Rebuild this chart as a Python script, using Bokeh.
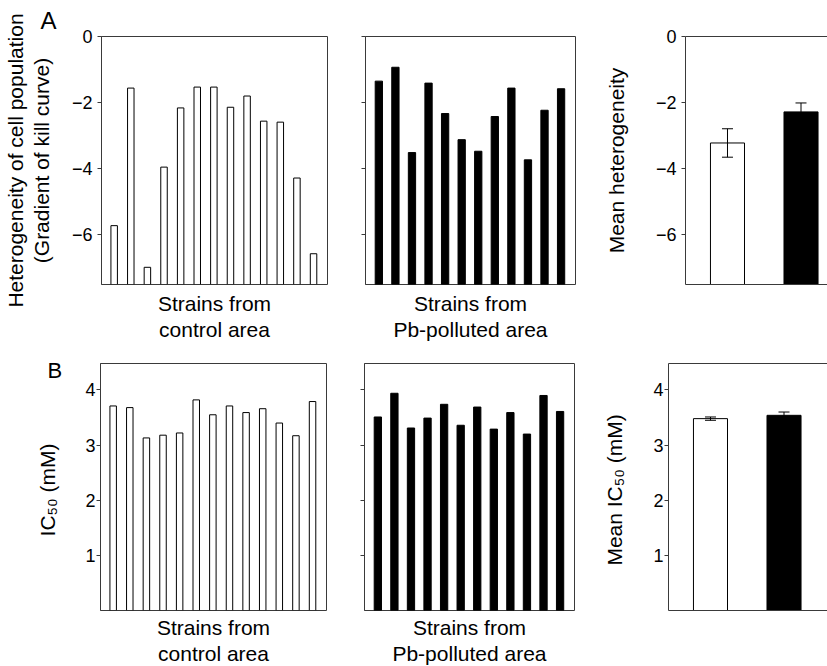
from bokeh.plotting import figure
from bokeh.layouts import column, row
from bokeh.models import (FixedTicker, LinearAxis, Range1d, Whisker,
                          ColumnDataSource, Label)
from bokeh.embed import file_html
from bokeh.resources import INLINE

# ---------------- data ----------------
control_het = [-5.72, -1.56, -6.98, -3.95, -2.16, -1.53, -1.53, -2.14, -1.80,
               -2.56, -2.59, -4.28, -6.57]
polluted_het = [-1.35, -0.93, -3.51, -1.41, -2.33, -3.12, -3.47, -2.42, -1.56,
                -3.73, -2.23, -1.58]
control_ic50 = [3.71, 3.68, 3.13, 3.18, 3.22, 3.82, 3.55, 3.71, 3.59, 3.66,
                3.40, 3.17, 3.79]
polluted_ic50 = [3.51, 3.94, 3.31, 3.49, 3.74, 3.36, 3.69, 3.29, 3.59, 3.20,
                 3.90, 3.61]
mean_het = [-3.22, -2.28]
mean_het_err = [0.43, 0.27]
mean_ic50 = [3.48, 3.54]
mean_ic50_err = [0.03, 0.06]
het_ticks = [-6, -4, -2, 0]
ic50_ticks = [1, 2, 3, 4]

FONT = "Liberation Sans"
LC = "#3a3a3a"
HET_RANGE = (-7.5, 0)
IC_RANGE = (0, 4.48)


def base_fig(fw, fh, bl, br, bt, bb, xr, yr, outline=True):
    p = figure(frame_width=fw, frame_height=fh, min_border_left=bl,
               min_border_right=br, min_border_top=bt, min_border_bottom=bb,
               x_range=Range1d(*xr), y_range=Range1d(*yr),
               output_backend="svg", toolbar_location=None, tools="")
    p.grid.visible = False
    p.outline_line_color = LC if outline else None
    p.outline_line_width = 1
    p.background_fill_color = "white"
    p.border_fill_color = "white"
    return p


def style_yaxis(ax, ticks, labels=True, standoff=5):
    ax.ticker = FixedTicker(ticks=ticks)
    ax.major_tick_out = 4
    ax.major_tick_in = 0
    ax.minor_tick_out = 0
    ax.minor_tick_in = 0
    ax.axis_line_color = LC
    ax.major_tick_line_color = LC
    ax.major_label_text_font = FONT
    ax.major_label_text_font_size = "18px"
    ax.major_label_standoff = standoff
    if labels:
        ax.major_label_text_color = "black"
        ax.major_label_overrides = {t: (str(t).replace("-", "\u2212")) for t in ticks}
    else:
        ax.major_label_text_color = None
    ax.axis_label_text_font = FONT
    ax.axis_label_text_font_size = "21px"
    ax.axis_label_text_font_style = "normal"
    ax.axis_label_text_color = "black"


def bare_axis(ax, text, standoff, line=False):
    ax.ticker = FixedTicker(ticks=[])
    ax.axis_line_color = LC if line else None
    ax.major_tick_out = 0
    ax.major_tick_in = 0
    ax.minor_tick_out = 0
    ax.minor_tick_in = 0
    ax.major_label_standoff = 0
    ax.major_label_text_color = None
    ax.axis_label = text
    ax.axis_label_standoff = standoff
    ax.axis_label_text_font = FONT
    ax.axis_label_text_font_size = "21px"
    ax.axis_label_text_font_style = "normal"
    ax.axis_label_text_color = "black"


def extra_axis(p, loc, text, standoff, line=False):
    ax = LinearAxis()
    bare_axis(ax, text, standoff, line)
    p.add_layout(ax, loc)
    return ax


X13 = (0.237, 13.84)
X12 = (0.195, 12.87)
X2 = (0.429, 2.605)

xc = list(range(1, len(control_het) + 1))
xp = list(range(1, len(polluted_het) + 1))
xm = [1, 2]

# ---------------- top row ----------------
p1 = base_fig(226, 248, 100, 12, 36, 58, X13, HET_RANGE)
p1.vbar(x=xc, top=control_het, bottom=HET_RANGE[0], width=0.39,
        fill_color="white", line_color="black", line_width=1)
style_yaxis(p1.yaxis[0], het_ticks, True, 5)
p1.yaxis[0].axis_label = "(Gradient of kill curve)"
p1.yaxis[0].axis_label_standoff = 16
extra_axis(p1, "left", "Heterogeneity of cell population", 0)
bare_axis(p1.xaxis[0], "Strains from", 7)
extra_axis(p1, "below", "control area", 0)
p1.add_layout(Label(x=-3.43, y=0.48, text="A", text_font=FONT,
                    text_color="black", text_font_size="24px",
                    text_baseline="alphabetic"), "above")

p2 = base_fig(210, 248, 26, 26, 36, 58, X12, HET_RANGE)
p2.vbar(x=xp, top=polluted_het, bottom=HET_RANGE[0], width=0.44,
        fill_color="black", line_color="black", line_width=1)
style_yaxis(p2.yaxis[0], het_ticks, False, 0)
bare_axis(p2.xaxis[0], "Strains from", 7)
extra_axis(p2, "below", "Pb-polluted area", 0)

p3 = base_fig(160, 248, 67, 0, 36, 58, X2, HET_RANGE, outline=False)
p3.vbar(x=xm, top=mean_het, bottom=HET_RANGE[0], width=0.463,
        fill_color=["white", "black"], line_color="black", line_width=1)
src3 = ColumnDataSource(dict(x=xm,
                             upper=[m + e for m, e in zip(mean_het, mean_het_err)],
                             lower=[m - e for m, e in zip(mean_het, mean_het_err)]))
w3 = Whisker(base="x", upper="upper", lower="lower", source=src3,
             line_color="black", line_width=1, level="overlay")
w3.upper_head.size = 11
w3.lower_head.size = 11
p3.add_layout(w3)
style_yaxis(p3.yaxis[0], het_ticks, True, 5)
p3.yaxis[0].axis_label = "Mean heterogeneity"
p3.yaxis[0].axis_label_standoff = 25
bare_axis(p3.xaxis[0], None, 0, line=True)
extra_axis(p3, "above", None, 0, line=True)

# ---------------- bottom row ----------------
p4 = base_fig(226, 247, 100, 12, 20, 57, X13, IC_RANGE)
p4.vbar(x=xc, top=control_ic50, bottom=0, width=0.39,
        fill_color="white", line_color="black", line_width=1)
style_yaxis(p4.yaxis[0], ic50_ticks, True, 1)
p4.yaxis[0].axis_label = "IC\u2085\u2080  (mM)"
p4.yaxis[0].axis_label_standoff = 23
bare_axis(p4.xaxis[0], "Strains from", 5)
extra_axis(p4, "below", "control area", 0)
p4.add_layout(Label(x=-2.954, y=4.35, text="B", text_font=FONT,
                    text_color="black", text_font_size="22px",
                    text_baseline="alphabetic"), "left")

p5 = base_fig(210, 247, 26, 26, 20, 57, X12, IC_RANGE)
p5.vbar(x=xp, top=polluted_ic50, bottom=0, width=0.44,
        fill_color="black", line_color="black", line_width=1)
style_yaxis(p5.yaxis[0], ic50_ticks, False, 0)
bare_axis(p5.xaxis[0], "Strains from", 5)
extra_axis(p5, "below", "Pb-polluted area", 0)

p6 = base_fig(160, 247, 67, 0, 20, 57, X2, IC_RANGE, outline=False)
p6.vbar(x=xm, top=mean_ic50, bottom=0, width=0.463,
        fill_color=["white", "black"], line_color="black", line_width=1)
src6 = ColumnDataSource(dict(x=xm,
                             upper=[m + e for m, e in zip(mean_ic50, mean_ic50_err)],
                             lower=[m - e for m, e in zip(mean_ic50, mean_ic50_err)]))
w6 = Whisker(base="x", upper="upper", lower="lower", source=src6,
             line_color="black", line_width=1, level="overlay")
w6.upper_head.size = 11
w6.lower_head.size = 11
p6.add_layout(w6)
style_yaxis(p6.yaxis[0], ic50_ticks, True, 1)
p6.yaxis[0].axis_label = "Mean IC\u2085\u2080  (mM)"
p6.yaxis[0].axis_label_standoff = 24
bare_axis(p6.xaxis[0], None, 0, line=True)
extra_axis(p6, "above", None, 0, line=True)

layout = column(row(p1, p2, p3), row(p4, p5, p6))

open("out.html", "w").write(file_html(layout, INLINE))
